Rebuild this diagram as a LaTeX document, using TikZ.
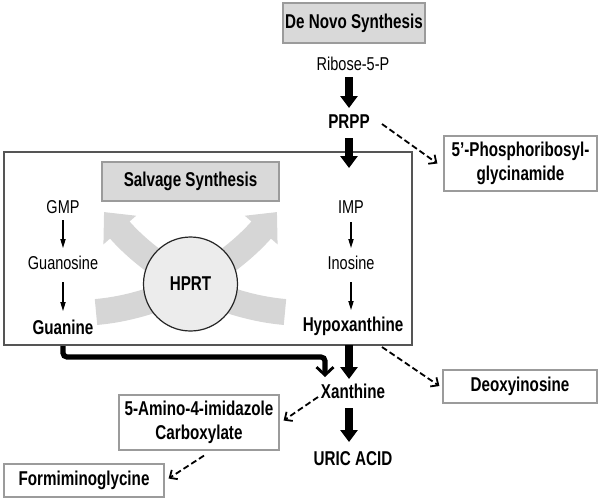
\documentclass[tikz,border=0pt]{standalone}
\usepackage{fontspec}
\setmainfont[FakeStretch=0.78, BoldFeatures={FakeStretch=0.76}]{Liberation Sans}
\usetikzlibrary{arrows.meta,calc}
\definecolor{titlefill}{RGB}{217,217,217}
\definecolor{boxline}{RGB}{155,155,155}
\definecolor{bigline}{RGB}{85,85,85}
\definecolor{xarrow}{RGB}{214,214,214}
\definecolor{circfill}{RGB}{236,236,236}
\tikzset{
  reg/.style={inner sep=0pt, font=\fontsize{9.3}{11}\selectfont},
  bld/.style={inner sep=0pt, font=\fontsize{10}{12}\selectfont\bfseries},
  titlebox/.style={bld, draw=boxline, fill=titlefill, line width=0.6pt},
  whitebox/.style={bld, draw=boxline, fill=white, line width=0.6pt, align=center},
  thickarrow/.style={line width=4pt, -{Triangle[width=8.5pt,length=6pt]}},
  thinarrow/.style={line width=0.6pt, -{Triangle[width=2.6pt,length=4.5pt]}},
  dasharrow/.style={line width=0.9pt, dash pattern=on 3pt off 1.6pt, -{Straight Barb[length=3pt,width=5.5pt,line width=0.9pt]}},
  bigarrow/.style={xarrow, line width=13pt, -{Triangle[width=21pt,length=12pt]}},
  gconn/.style={line width=2.6pt, rounded corners=2pt, -{Straight Barb[length=4pt,width=8.5pt,line width=1.4pt]}},
}
\begin{document}
\begin{tikzpicture}[x=0.5pt,y=-0.5pt]
\useasboundingbox (0,0) rectangle (600,500);
% salvage frame
\node[draw=bigline, line width=1pt, minimum width=204pt, minimum height=96.5pt, inner sep=0pt] (bigbox) at (208,248.5) {};
% grey crossing arrows
\draw[bigarrow] (96,312) .. controls (165,306) and (228,268) .. (277,212);
\draw[bigarrow] (285,312) .. controls (216,306) and (153,268) .. (104,212);
\node[circle, draw=black!85, fill=circfill, line width=0.6pt, minimum size=47pt, inner sep=0pt, bld] (hprt) at (190.5,284) {HPRT};
% titles
\node[titlebox, minimum width=71pt, minimum height=20pt] (denovo) at (354,23) {De Novo Synthesis};
\node[titlebox, minimum width=88.5pt, minimum height=19.5pt] (salvage) at (190.5,181.5) {Salvage Synthesis};
% main column
\node[reg] (ribose) at (353,64) {Ribose-5-P};
\node[bld] (prpp) at (349,122) {PRPP};
\node[reg] (imp) at (351,207) {IMP};
\node[reg] (inosine) at (351,263) {Inosine};
\node[bld] (hypox) at (353,326) {Hypoxanthine};
\node[bld] (xanthine) at (353,391) {Xanthine};
\node[bld] (uric) at (353,459) {URIC ACID};
% left column
\node[reg] (gmp) at (63,207) {GMP};
\node[reg] (guanosine) at (63,263) {Guanosine};
\node[bld] (guanine) at (63,327) {Guanine};
% side boxes
\node[whitebox, minimum width=76.5pt, minimum height=27.5pt] (phos) at (520.5,163.5) {5’-Phosphoribosyl-\\glycinamide};
\node[whitebox, minimum width=77pt, minimum height=16.5pt] (deoxy) at (520,386.5) {Deoxyinosine};
\node[whitebox, minimum width=80pt, minimum height=27.5pt] (amino) at (199,422.5) {5-Amino-4-imidazole\\Carboxylate};
\node[whitebox, minimum width=80pt, minimum height=16.5pt] (formi) at (84,480.5) {Formiminoglycine};
% thick arrows
\draw[thickarrow] ($(ribose)+(-4,13)$) -- ($(prpp)+(0,-14)$);
\draw[thickarrow] ($(prpp)+(0,16)$) -- ($(imp)+(-2,-39)$);
\draw[thickarrow] ($(hypox)+(-4,19)$) -- ($(xanthine)+(-4,-12)$);
\draw[thickarrow] ($(xanthine)+(-4,17)$) -- ($(uric)+(-4,-17)$);
% thin arrows
\draw[thinarrow] ($(gmp)+(0,13)$) -- ($(guanosine)+(0,-15)$);
\draw[thinarrow] ($(guanosine)+(0,19)$) -- ($(guanine)+(0,-16)$);
\draw[thinarrow] ($(imp)+(0,15)$) -- ($(inosine)+(0,-15)$);
\draw[thinarrow] ($(inosine)+(0,19)$) -- ($(hypox)+(-2,-16)$);
% dashed arrows
\draw[dasharrow] ($(prpp)+(33,2)$) -- ($(phos.west)+(-6,0)$);
\draw[dasharrow] ($(hypox)+(29,21)$) -- ($(deoxy.west)+(-3,-0.5)$);
\draw[dasharrow] ($(xanthine)+(-35,6)$) -- ($(amino.east)+(4,-2)$);
\draw[dasharrow] ($(amino.south)+(5,5)$) -- ($(formi.east)+(4,-2)$);
% guanine to xanthine
\draw[gconn] (guanine.south |- bigbox.south) |- ($(xanthine)+(-28,-34)$) -- ($(xanthine)+(-28,-14)$);
\end{tikzpicture}
\end{document}
